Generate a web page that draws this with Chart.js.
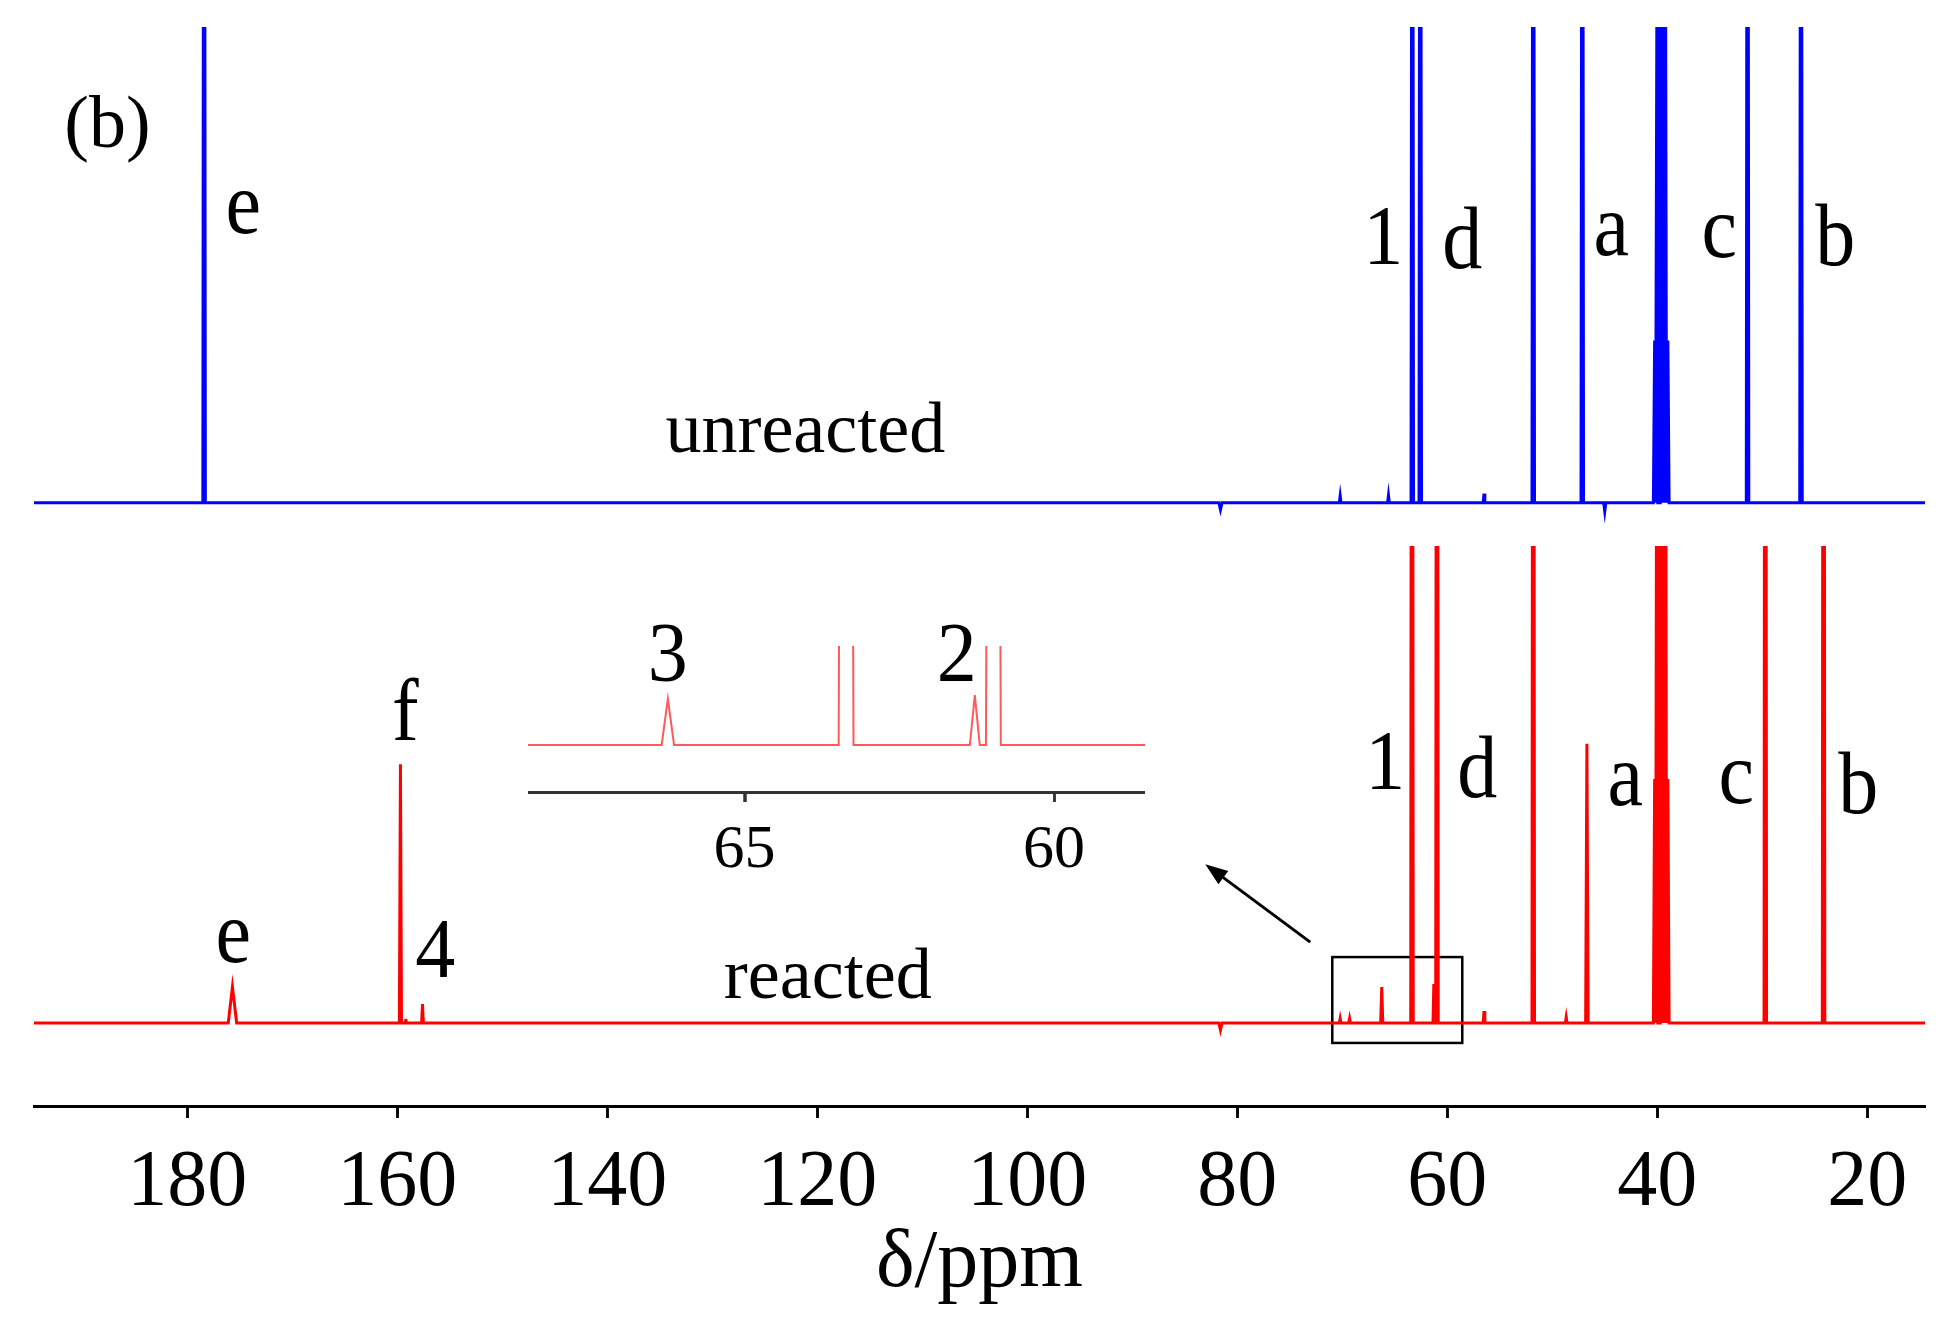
<!DOCTYPE html>
<html>
<head>
<meta charset="utf-8">
<title>13C NMR – unreacted / reacted</title>
<script src="https://cdn.jsdelivr.net/npm/chart.js@4.4.1/dist/chart.umd.min.js"></script>
<style>
  body { margin: 0; background: #fff; }
  .figure { position: relative; width: 1956px; height: 1339px; }
  .figure canvas { position: absolute; }
  #mainChart { left: 0; top: 0; }
  #insetChart { left: 528px; top: 600px; }
</style>
</head>
<body>
<div class="figure">
  <canvas id="mainChart" width="1956" height="1339"></canvas>
  <canvas id="insetChart" width="617" height="300"></canvas>
</div>
<script>
// Rango del eje de desplazamiento químico (ppm)
const ppmMin = 14.5;
const ppmMax = 194.6;
const ppmTicks = [20, 40, 60, 80, 100, 120, 140, 160, 180];

// Rango del recuadro ampliado
const insetMin = 58.53;
const insetMax = 68.5;
const insetTicks = [60, 65];

// Picos: [δ/ppm, intensidad, semiancho en ppm]
const unreactedPeaks = [
  [178.4, 300, 0.12],   // e
  [81.6, -1.6, 0.15],
  [70.2, 1.6, 0.08],
  [65.6, 1.7, 0.08],
  [63.33, 300, 0.12],   // 1
  [62.57, 300, 0.12],   // d
  [56.5, 2.1, 0.08],
  [51.81, 300, 0.12],
  [47.14, 300, 0.12],   // a
  [45.0, -2.0, 0.1],
  [40.25, 37.5, 0.12],  // DMSO-d6
  [40.04, 112, 0.12],
  [39.83, 225, 0.12],
  [39.62, 262, 0.12],
  [39.41, 225, 0.12],
  [39.20, 112, 0.12],
  [38.99, 37.5, 0.12],
  [31.40, 300, 0.12],   // c
  [26.31, 300, 0.12]    // b
];

const reactedPeaks = [
  [175.7, 8.7, 0.4],    // e
  [159.7, 62.4, 0.1],   // f
  [159.2, 1.0, 0.06],
  [157.6, 4.6, 0.08],   // 4
  [81.6, -1.7, 0.15],
  [70.2, 1.1, 0.08],
  [69.3, 1.1, 0.08],
  [66.24, 8.7, 0.1],    // 3
  [63.36, 400, 0.12],   // 1
  [61.28, 9.4, 0.08],   // 2
  [60.98, 400, 0.12],   // d
  [56.5, 2.9, 0.08],
  [51.81, 400, 0.12],
  [48.67, 1.4, 0.08],
  [46.70, 67.3, 0.12],  // a
  [40.25, 58.8, 0.12],  // DMSO-d6
  [40.04, 176, 0.12],
  [39.83, 353, 0.12],
  [39.62, 412, 0.12],
  [39.41, 353, 0.12],
  [39.20, 176, 0.12],
  [38.99, 58.8, 0.12],
  [29.71, 400, 0.12],   // c
  [24.16, 400, 0.12]    // b
];

// Etiquetas: [texto, δ/ppm, intensidad, eje, tamaño, estiramiento vertical]
const topLabels = [
  ['(b)', 187.6, 82.3, 'yTop', 74, 1],
  ['e', 174.67, 62.4, 'yTop', 80, 1.1],
  ['1', 66.10, 55.2, 'yTop', 80, 1.05],
  ['d', 58.57, 54.3, 'yTop', 80, 1.1],
  ['a', 44.38, 57.3, 'yTop', 80, 1.1],
  ['c', 34.10, 56.8, 'yTop', 80, 1.1],
  ['b', 23.05, 54.9, 'yTop', 80, 1.1],
  ['unreacted', 121.14, 11.7, 'yTop', 72, 1]
];
const bottomLabels = [
  ['f', 159.24, 68.3, 'yBottom', 80, 1.1],
  ['e', 175.62, 14.7, 'yBottom', 80, 1.1],
  ['4', 156.38, 11.1, 'yBottom', 80, 1.05],
  ['reacted', 119.0, 6.0, 'yBottom', 72, 1],
  ['1', 65.90, 56.4, 'yBottom', 80, 1.05],
  ['d', 57.14, 54.5, 'yBottom', 80, 1.1],
  ['a', 43.05, 52.6, 'yBottom', 80, 1.1],
  ['c', 32.48, 53.0, 'yBottom', 80, 1.1],
  ['b', 20.86, 50.6, 'yBottom', 80, 1.1]
];
const insetLabels = [
  ['3', 66.24, 12.05, 'y', 80, 1.05],
  ['2', 61.57, 12.05, 'y', 80, 1.05]
];

const SERIF = "'Liberation Serif', 'Times New Roman', serif";

// Construye la traza del espectro a partir de la lista de picos
function buildTrace(peaks) {
  const pts = [{ x: ppmMax, y: 0 }, { x: ppmMin, y: 0 }];
  peaks.forEach(([ppm, h, hw]) => {
    pts.push({ x: ppm + hw, y: 0 }, { x: ppm, y: h }, { x: ppm - hw, y: 0 });
  });
  pts.sort((a, b) => b.x - a.x);
  return pts;
}

// Plugin para etiquetas, marcas del eje, recuadro y flecha
const annotate = {
  id: 'annotate',
  beforeDatasetsDraw(chart, args, opts) {
    const { ctx, scales } = chart;
    if (!opts.box) return;
    const b = opts.box;
    const x1 = scales.x.getPixelForValue(b.from[0]);
    const x2 = scales.x.getPixelForValue(b.to[0]);
    const y1 = scales[b.axis].getPixelForValue(b.from[1]);
    const y2 = scales[b.axis].getPixelForValue(b.to[1]);
    ctx.save();
    ctx.strokeStyle = '#000';
    ctx.lineWidth = 2.5;
    ctx.strokeRect(Math.min(x1, x2), Math.min(y1, y2), Math.abs(x2 - x1), Math.abs(y2 - y1));
    ctx.restore();
  },
  afterDraw(chart, args, opts) {
    const { ctx, scales } = chart;
    ctx.save();
    // marcas de graduación hacia abajo del eje x
    if (opts.tickMarks) {
      const sx = scales.x;
      const t = opts.tickMarks;
      ctx.strokeStyle = t.color;
      ctx.lineWidth = t.width;
      sx.ticks.forEach((tk, i) => {
        const px = Math.round(sx.getPixelForTick(i)) + 0.5;
        ctx.beginPath();
        ctx.moveTo(px, sx.top);
        ctx.lineTo(px, sx.top + t.length);
        ctx.stroke();
      });
    }
    ctx.fillStyle = '#000';
    ctx.textAlign = 'center';
    ctx.textBaseline = 'alphabetic';
    (opts.labels || []).forEach(([text, ppm, val, axis, size, stretch]) => {
      ctx.save();
      ctx.translate(scales.x.getPixelForValue(ppm), scales[axis].getPixelForValue(val));
      ctx.scale(1, stretch);
      ctx.font = `${size}px ${SERIF}`;
      ctx.fillText(text, 0, 0);
      ctx.restore();
    });
    if (opts.arrow) {
      const a = opts.arrow;
      const x0 = scales.x.getPixelForValue(a.from[0]);
      const y0 = scales[a.axis].getPixelForValue(a.from[1]);
      const x1 = scales.x.getPixelForValue(a.to[0]);
      const y1 = scales[a.axis].getPixelForValue(a.to[1]);
      const ang = Math.atan2(y1 - y0, x1 - x0);
      const head = 24;
      ctx.strokeStyle = '#000';
      ctx.lineWidth = 3;
      ctx.beginPath();
      ctx.moveTo(x0, y0);
      ctx.lineTo(x1 - head * 0.8 * Math.cos(ang), y1 - head * 0.8 * Math.sin(ang));
      ctx.stroke();
      ctx.beginPath();
      ctx.moveTo(x1, y1);
      ctx.lineTo(x1 - head * Math.cos(ang - 0.35), y1 - head * Math.sin(ang - 0.35));
      ctx.lineTo(x1 - head * Math.cos(ang + 0.35), y1 - head * Math.sin(ang + 0.35));
      ctx.closePath();
      ctx.fill();
    }
    ctx.restore();
  }
};

// Gráfico principal: dos espectros apilados
new Chart(document.getElementById('mainChart'), {
  type: 'line',
  data: {
    datasets: [
      {
        label: 'unreacted',
        data: buildTrace(unreactedPeaks),
        yAxisID: 'yTop',
        borderColor: '#0000ff',
        borderWidth: 3,
        pointRadius: 0,
        tension: 0
      },
      {
        label: 'reacted',
        data: buildTrace(reactedPeaks),
        yAxisID: 'yBottom',
        borderColor: '#ff0000',
        borderWidth: 3,
        pointRadius: 0,
        tension: 0
      }
    ]
  },
  options: {
    responsive: false,
    animation: false,
    devicePixelRatio: 1,
    layout: { padding: { left: 34, right: 31, top: 27, bottom: 0 } },
    plugins: {
      legend: { display: false },
      tooltip: { enabled: false },
      annotate: {
        labels: topLabels.concat(bottomLabels),
        tickMarks: { length: 12, width: 2.5, color: '#000' },
        box: { axis: 'yBottom', from: [70.95, 15.9], to: [58.57, -4.8] },
        arrow: { axis: 'yBottom', from: [73.05, 19.5], to: [83.05, 38.3] }
      }
    },
    scales: {
      x: {
        type: 'linear',
        reverse: true,
        min: ppmMin,
        max: ppmMax,
        afterFit: (s) => { s.height = 233; },
        afterBuildTicks: (s) => { s.ticks = ppmTicks.map(v => ({ value: v })); },
        border: { display: true, color: '#000', width: 3 },
        grid: {
          display: true,
          drawOnChartArea: false,
          drawTicks: true,
          tickLength: 12,
          tickWidth: 2.5,
          tickColor: '#000',
          color: '#000'
        },
        ticks: {
          autoSkip: false,
          maxRotation: 0,
          padding: 26,
          color: '#000',
          font: { family: SERIF, size: 80, lineHeight: 1 }
        },
        title: {
          display: true,
          text: 'δ/ppm',
          color: '#000',
          font: { family: SERIF, size: 82, lineHeight: 1 },
          padding: { top: 0, bottom: 34 }
        }
      },
      yTop: {
        type: 'linear',
        display: false,
        position: 'left',
        stack: 'nmr',
        stackWeight: 519,
        weight: 2,
        min: -10,
        max: 110
      },
      yBottom: {
        type: 'linear',
        display: false,
        position: 'left',
        stack: 'nmr',
        stackWeight: 560,
        weight: 1,
        min: -20,
        max: 115
      }
    }
  },
  plugins: [annotate]
});

// Recuadro ampliado de la región 58–68 ppm
new Chart(document.getElementById('insetChart'), {
  type: 'line',
  data: {
    datasets: [{
      label: 'reacted (ampliado)',
      data: buildTrace(reactedPeaks),
      borderColor: 'rgba(255, 60, 60, 0.85)',
      borderWidth: 2,
      pointRadius: 0,
      tension: 0
    }]
  },
  options: {
    responsive: false,
    animation: false,
    devicePixelRatio: 1,
    layout: { padding: { left: 0, right: 0, top: 46, bottom: 0 } },
    plugins: {
      legend: { display: false },
      tooltip: { enabled: false },
      annotate: {
        labels: insetLabels,
        tickMarks: { length: 10, width: 2.5, color: '#333' }
      }
    },
    scales: {
      x: {
        type: 'linear',
        reverse: true,
        min: insetMin,
        max: insetMax,
        afterFit: (s) => { s.height = 108; },
        afterBuildTicks: (s) => { s.ticks = insetTicks.map(v => ({ value: v })); },
        border: { display: true, color: '#333', width: 3 },
        grid: {
          display: true,
          drawOnChartArea: false,
          drawTicks: true,
          tickLength: 10,
          tickWidth: 2.5,
          tickColor: '#333',
          color: '#333'
        },
        ticks: {
          autoSkip: false,
          maxRotation: 0,
          padding: 18,
          color: '#000',
          font: { family: SERIF, size: 62, lineHeight: 1 }
        }
      },
      y: {
        type: 'linear',
        display: false,
        min: -8.85,
        max: 18.64
      }
    }
  },
  plugins: [annotate]
});
</script>
</body>
</html>
